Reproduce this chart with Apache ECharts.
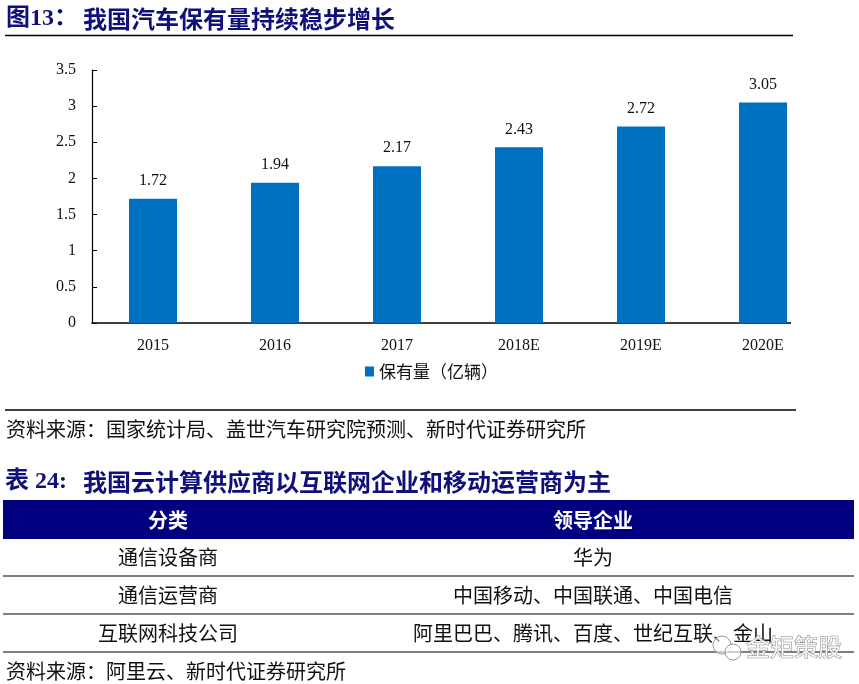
<!DOCTYPE html>
<html><head><meta charset="utf-8">
<script src="https://cdn.jsdelivr.net/npm/echarts@6/dist/echarts.min.js"></script>
<style>html,body{margin:0;padding:0;background:#fff}#c{width:859px;height:684px}</style>
</head><body><div id="c"></div>
<script>
const chartTitleNo = '图13：';
const chartTitle = '我国汽车保有量持续稳步增长';
const years = ['2015', '2016', '2017', '2018E', '2019E', '2020E'];
const stock = [1.72, 1.94, 2.17, 2.43, 2.72, 3.05];
const seriesName = '保有量（亿辆）';
const source1 = '资料来源：国家统计局、盖世汽车研究院预测、新时代证券研究所';
const tableTitleNo = '表 24:';
const tableTitle = '我国云计算供应商以互联网企业和移动运营商为主';
const tableHeader = ['分类', '领导企业'];
const tableCats = ['通信设备商', '通信运营商', '互联网科技公司'];
const tableLeaders = ['华为', '中国移动、中国联通、中国电信', '阿里巴巴、腾讯、百度、世纪互联、金山'];
const source2 = '资料来源：阿里云、新时代证券研究所';
const watermark = '金矩策股';

const NAVY = '#10107a';
const CJK = '"Noto Sans CJK SC", sans-serif';
const SERIF = '"Liberation Serif", "Times New Roman", serif';

function txt(text, x, y, font, fill, align) {
  return { type: 'text', x: x, y: y, silent: true,
    style: { text: text, font: font, fill: fill || '#000', textAlign: align || 'left',
      textVerticalAlign: 'middle', verticalAlign: 'middle' } };
}
function hline(x1, x2, y, w, c) {
  return { type: 'line', silent: true, shape: { x1: x1, y1: y, x2: x2, y2: y },
    style: { stroke: c || '#000', lineWidth: w || 1 } };
}

const g = [];
// chart title
g.push(txt(chartTitleNo, 6, 19, 'bold 24px ' + SERIF + ',' + CJK, NAVY));
g.push(txt(chartTitle, 83, 19, 'bold 24px ' + CJK, NAVY));
g.push(hline(5, 793, 35.5, 1.5));
// mask axis beyond plot crop
g.push({ type: 'rect', silent: true, z: 100, shape: { x: 791, y: 314, width: 50, height: 14 }, style: { fill: '#fff' } });
// source 1
g.push(hline(5, 796, 410, 1.5));
g.push(txt(source1, 6, 429, '20px ' + CJK, '#111'));
// table title
g.push(txt(tableTitleNo, 5, 482, 'bold 24px ' + SERIF + ',' + CJK, NAVY));
g.push(txt(tableTitle, 83, 482, 'bold 24px ' + CJK, NAVY));
// header
g.push({ type: 'rect', silent: true, shape: { x: 3, y: 500, width: 851, height: 39 }, style: { fill: '#000080' } });
g.push(txt(tableHeader[0], 168, 520, 'bold 20px ' + CJK, '#fff', 'center'));
g.push(txt(tableHeader[1], 593, 520, 'bold 20px ' + CJK, '#fff', 'center'));
const rowMid = [557, 595, 633];
const rowLine = [576, 614, 652];
for (let i = 0; i < tableCats.length; i++) {
  g.push(txt(tableCats[i], 168, rowMid[i], '20px ' + CJK, '#111', 'center'));
  g.push(txt(tableLeaders[i], 593, rowMid[i], '20px ' + CJK, '#111', 'center'));
  g.push(hline(3, 854, rowLine[i], 1.2));
}
g.push(txt(source2, 6, 671, '20px ' + CJK, '#111'));
// watermark
g.push({ type: 'circle', silent: true, z: 50, shape: { cx: 722, cy: 645, r: 9 }, style: { fill: 'rgba(255,255,255,0.6)', stroke: '#999', lineWidth: 1 } });
g.push({ type: 'circle', silent: true, z: 50, shape: { cx: 733, cy: 652, r: 8 }, style: { fill: 'rgba(255,255,255,0.6)', stroke: '#999', lineWidth: 1 } });
g.push({ type: 'text', x: 746, y: 647, z: 50, silent: true,
  style: { text: watermark, font: '24px ' + CJK, fill: 'rgba(255,255,255,0.85)', stroke: '#8c8c8c', lineWidth: 1,
    textAlign: 'left', textVerticalAlign: 'middle', verticalAlign: 'middle' } });

const chart = echarts.init(document.getElementById('c'), null, { renderer: 'canvas' });
chart.setOption({
  animation: false,
  backgroundColor: '#fff',
  grid: { left: 92, right: 35, top: 70, bottom: 361, containLabel: false },
  legend: {
    data: [seriesName], left: 360, top: 358, icon: 'rect', itemWidth: 9, itemHeight: 10,
    textStyle: { fontFamily: CJK, fontSize: 17, color: '#111' }
  },
  xAxis: {
    type: 'category', data: years,
    axisLine: { lineStyle: { color: '#000', width: 1.5 } },
    axisTick: { inside: true, length: 6, lineStyle: { color: '#000' } },
    axisLabel: { fontFamily: SERIF, fontSize: 16, color: '#111', margin: 15 }
  },
  yAxis: {
    type: 'value', min: 0, max: 3.5, interval: 0.5,
    splitLine: { show: false },
    axisLine: { show: true, lineStyle: { color: '#000', width: 1.2 } },
    axisTick: { show: true, inside: true, length: 5, lineStyle: { color: '#000' } },
    axisLabel: { fontFamily: SERIF, fontSize: 16, color: '#111', margin: 16 }
  },
  series: [{
    name: seriesName, type: 'bar', data: stock, barWidth: 48,
    itemStyle: { color: '#0070C0' },
    label: { show: true, position: 'top', distance: 10, fontFamily: SERIF, fontSize: 16, color: '#111' }
  }],
  graphic: { elements: g }
});
</script></body></html>
